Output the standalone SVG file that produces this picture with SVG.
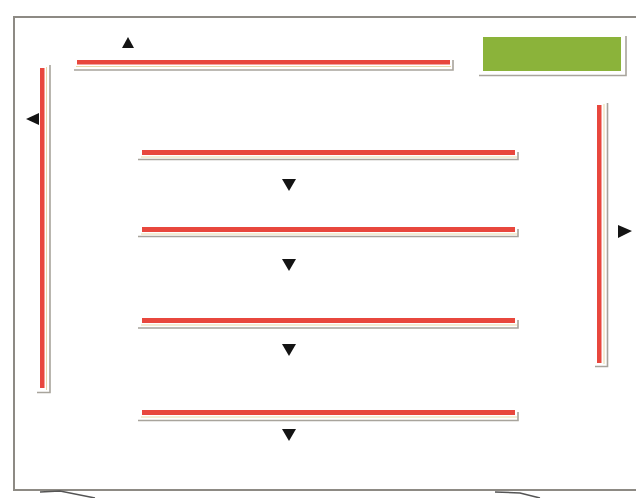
<svg xmlns="http://www.w3.org/2000/svg" width="636" height="498" viewBox="0 0 636 498">
<style>
.red{fill:#e8473d}
.sh{stroke:#a8a49c;stroke-width:1.6;fill:none}
.tip{stroke:#e8d9a8;stroke-width:1;fill:none}
.arr{fill:#141414}
</style>
<rect width="636" height="498" fill="#ffffff"/>
<g id="frame">
<path d="M638 17 H14 V490 H638" fill="none" stroke="#8d8a84" stroke-width="2"/>
<path d="M40 492 L60 491 L95 498" fill="none" stroke="#555" stroke-width="1.5"/>
<path d="M495 492 L520 493 L540 498" fill="none" stroke="#555" stroke-width="1.5"/>
</g>
<g id="top-bar">
<rect class="red" x="77" y="60" width="373" height="4.5"/>
<path class="tip" d="M76 66.5 H451"/>
<path class="sh" d="M74 70 H453 V60"/>
</g>
<g id="green-box">
<rect x="483" y="37" width="138" height="34" fill="#8bb33a"/>
<path class="sh" d="M479 75.5 H626 V36"/>
</g>
<g id="left-bar">
<rect class="red" x="40" y="68" width="4.5" height="320"/>
<path class="tip" d="M46.5 67 V390"/>
<path class="sh" d="M50 65 V392.5 H37"/>
</g>
<g id="right-bar">
<rect class="red" x="597" y="105" width="4.5" height="258"/>
<path class="tip" d="M604 104 V364"/>
<path class="sh" d="M607.5 103 V366.5 H595"/>
</g>
<g id="bar-1">
<rect class="red" x="142" y="150" width="373" height="5"/>
<path class="tip" d="M141 157 H517"/>
<path class="sh" d="M138 159.5 H518 V152"/>
</g>
<g id="bar-2">
<rect class="red" x="142" y="227" width="373" height="5"/>
<path class="tip" d="M141 234 H517"/>
<path class="sh" d="M138 236.5 H518 V229"/>
</g>
<g id="bar-3">
<rect class="red" x="142" y="318" width="373" height="5"/>
<path class="tip" d="M141 325 H517"/>
<path class="sh" d="M138 328 H518 V320"/>
</g>
<g id="bar-4">
<rect class="red" x="142" y="410" width="373" height="5"/>
<path class="tip" d="M141 417 H517"/>
<path class="sh" d="M138 420.5 H518 V412"/>
</g>
<g id="connectors">
<polygon class="arr" points="128,37 122,48 134,48"/>
<polygon class="arr" points="26,119 39,113 39,125"/>
<polygon class="arr" points="632,231 618,225 618,238"/>
<polygon class="arr" points="289,191 282,179 296,179"/>
<polygon class="arr" points="289,271 282,259 296,259"/>
<polygon class="arr" points="289,356 282,344 296,344"/>
<polygon class="arr" points="289,441 282,429 296,429"/>
</g>
</svg>
